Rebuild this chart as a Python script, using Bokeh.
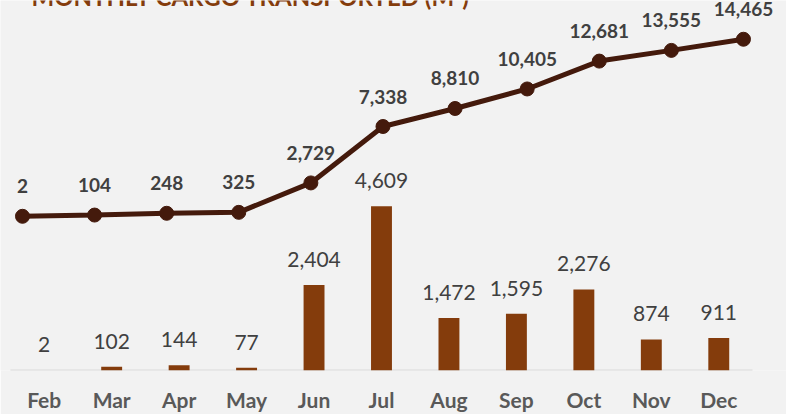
from bokeh.plotting import figure
from bokeh.models import (ColumnDataSource, Range1d, FixedTicker,
                          LabelSet, Label)
from bokeh.core.properties import value
from bokeh.embed import file_html
from bokeh.resources import INLINE

months = ["Feb", "Mar", "Apr", "May", "Jun", "Jul", "Aug", "Sep", "Oct", "Nov", "Dec"]
monthly = [2, 102, 144, 77, 2404, 4609, 1472, 1595, 2276, 874, 911]
cumulative = [2, 104, 248, 325, 2729, 7338, 8810, 10405, 12681, 13555, 14465]
title_text = "MONTHLY CARGO TRANSPORTED (M\u00b3)"

idx = list(range(len(months)))
src = ColumnDataSource(dict(
    x=idx,
    monthly=monthly,
    cumulative=cumulative,
    mlab=[f"{v:,}" for v in monthly],
    clab=[f"{v:,}" for v in cumulative],
))

BG = "#F2F2F2"
BAR = "#843C0C"
LINE = "#441A0C"
W, H = 786, 414
FRAME_H = 372

p = figure(width=W, height=H, output_backend="svg", toolbar_location=None,
           x_range=Range1d(-0.648, 11.004), y_range=Range1d(0, 10390),
           min_border_left=0, min_border_right=0, min_border_top=0,
           min_border_bottom=H - FRAME_H)
p.background_fill_color = BG
p.border_fill_color = BG
p.outline_line_color = None
p.grid.visible = False
p.yaxis.visible = False

p.extra_x_ranges = {"cum": Range1d(-0.305, 10.597)}
p.extra_y_ranges = {"cum": Range1d(-12594, 17631)}

# category baseline (axis line) spanning the category band
n = len(months)
p.segment(x0=[-0.5], x1=[n - 0.5], y0=[0], y1=[0],
          line_color="#D9D9D9", line_width=2)

p.vbar(x="x", top="monthly", width=0.31, source=src, fill_color=BAR,
       line_color=None)

p.line(x="x", y="cumulative", source=src, x_range_name="cum",
       y_range_name="cum", line_color=LINE, line_width=5)
p.scatter(x="x", y="cumulative", source=src, x_range_name="cum",
          y_range_name="cum", size=14, fill_color=LINE, line_color=LINE)

p.add_layout(LabelSet(x="x", y="monthly", text="mlab", source=src,
                      text_align="center", text_baseline="alphabetic",
                      y_offset=18, text_font=value("Lato"),
                      text_font_size="21px", text_color="#404040"))
p.add_layout(LabelSet(x="x", y="cumulative", text="clab", source=src,
                      x_range_name="cum", y_range_name="cum",
                      text_align="center", text_baseline="alphabetic",
                      y_offset=23, text_font=value("Lato"),
                      text_font_style="bold",
                      text_font_size="19px", text_color="#404040"))

ax = p.xaxis[0]
ax.ticker = FixedTicker(ticks=idx)
ax.major_label_overrides = {i: m for i, m in zip(idx, months)}
ax.axis_line_color = None
ax.major_tick_line_color = None
ax.minor_tick_line_color = None
ax.major_tick_out = 0
ax.major_tick_in = 0
ax.major_label_standoff = 16
ax.major_label_text_font = "Lato"
ax.major_label_text_font_style = "bold"
ax.major_label_text_font_size = "21px"
ax.major_label_text_color = "#595959"

p.add_layout(Label(x=31, y=FRAME_H + 2, x_units="screen", y_units="screen",
                   text=title_text, text_font="Lato", text_font_style="bold",
                   text_font_size="24px", text_color=BAR,
                   text_baseline="alphabetic"))

open("out.html", "w").write(file_html(p, INLINE))
